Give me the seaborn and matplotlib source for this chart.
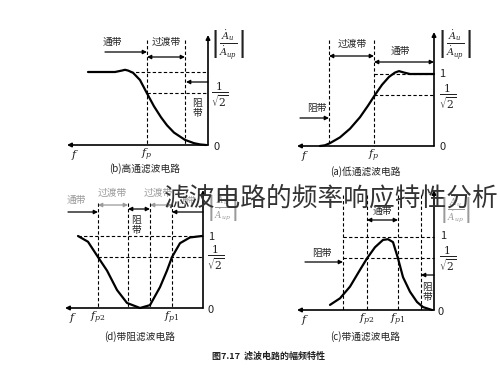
import numpy as np
import pandas as pd
import matplotlib
matplotlib.use("Agg")
import matplotlib.pyplot as plt
import seaborn as sns

sns.set_theme(style="white")
plt.rcParams['font.family'] = ['Noto Sans CJK SC', 'DejaVu Sans']
plt.rcParams['mathtext.fontset'] = 'dejavuserif'

# frequency measured from the origin (the scan is mirrored: f grows to the left)
hp_f = [12.0, 10.5, 9.3, 8.6, 8.3, 8.0, 7.5, 6.8, 6.1, 5.4, 4.7, 4.1, 3.4, 2.3, 1.4, 0.8, 0.2]
hp_gain = [1.0, 1.0, 1.0, 1.02, 1.03, 1.02, 0.99, 0.89, 0.707, 0.53, 0.38, 0.27, 0.17, 0.07, 0.025, 0.008, 0.0]

lp_f = [11.4, 10.9, 10.4, 9.4, 8.4, 7.4, 6.6, 5.9, 5.2, 4.5, 3.9, 3.5, 3.0, 2.4, 0.0]
lp_gain = [0.0, 0.01, 0.04, 0.12, 0.24, 0.40, 0.56, 0.71, 0.85, 0.96, 1.02, 1.04, 1.02, 1.0, 1.0]

bs_f = [12.5, 11.5, 10.5, 9.6, 8.6, 7.6, 6.3, 5.3, 4.3, 3.6, 3.1, 2.3, 1.3, 0.1]
bs_gain = [1.0, 0.92, 0.707, 0.52, 0.25, 0.07, 0.0, 0.04, 0.29, 0.52, 0.707, 0.90, 0.98, 1.0]

bp_f = [10.4, 9.4, 8.4, 7.4, 6.7, 5.9, 5.1, 4.6, 4.1, 3.6, 3.1, 2.4, 1.7, 1.1, 0.2]
bp_gain = [0.07, 0.16, 0.32, 0.55, 0.707, 0.86, 0.96, 0.97, 0.93, 0.707, 0.45, 0.25, 0.11, 0.04, 0.0]

title = "滤波电路的频率响应特性分析"
figure_caption = "图7.17  滤波电路的幅频特性"
ylabel = r'$\left|\frac{\dot{A}_u}{\dot{A}_{up}}\right|$'
inv_sqrt2 = r'$\frac{1}{\sqrt{2}}$'

W, H = 500, 369
fig = plt.figure(figsize=(5, 3.69), dpi=100)
fig.patch.set_facecolor('white')

DASH = dict(color='black', lw=0.8, ls=(0, (3, 2)))
FADED = '#9a9a9a'


def make_panel(ox, oy, s):
    """Axes whose data coords are f=(ox-px)/10 and gain=(oy-py)/s."""
    L, R, T, B = ox - 150, ox + 50, oy - 135, oy + 35
    ax = fig.add_axes([L / W, 1 - B / H, (R - L) / W, (B - T) / H])
    ax.set_xlim((ox - L) / 10, (ox - R) / 10)
    ax.set_ylim((oy - B) / s, (oy - T) / s)
    ax.axis('off')
    ax.patch.set_alpha(0)
    ax.ox, ax.oy, ax.s = ox, oy, s
    return ax


def P(ax, px, py):
    return (ax.ox - px) / 10, (ax.oy - py) / ax.s


def txt(ax, px, py, s, size=7, color='#222', **kw):
    x, y = P(ax, px, py)
    kw.setdefault('ha', 'center')
    kw.setdefault('va', 'center')
    ax.text(x, y, s, fontsize=size, color=color, clip_on=False, **kw)


def arrow(ax, p0, p1, both=False, lw=0.9, color='black'):
    ax.annotate('', xy=P(ax, *p1), xytext=P(ax, *p0),
                arrowprops=dict(arrowstyle='<|-|>' if both else '-|>',
                                color=color, lw=lw, mutation_scale=6,
                                shrinkA=0, shrinkB=0), annotation_clip=False)


def axes_frame(ax, left_end, top_end):
    arrow(ax, (ax.ox, ax.oy), (ax.ox, top_end), lw=1.2)
    arrow(ax, (ax.ox, ax.oy), (left_end, ax.oy), lw=1.2)


def vdash(ax, px, top):
    ax.plot(*zip(P(ax, px, top), P(ax, px, ax.oy)), **DASH)


def hdash(ax, gain, x0):
    ax.plot([P(ax, x0, 0)[0], 0], [gain, gain], **DASH)


def curve(ax, f, g):
    sns.lineplot(x=f, y=g, ax=ax, color='black', lw=1.6, sort=False,
                 estimator=None, legend=False)


# (b) high-pass, top left
ax = make_panel(208, 145, 73)
axes_frame(ax, 67, 35)
curve(ax, hp_f, hp_gain)
vdash(ax, 147, 40)
vdash(ax, 185, 40)
hdash(ax, 1.0, 130)
hdash(ax, 0.707, 147)
txt(ax, 112, 42, "通带")
arrow(ax, (105, 52), (147, 52))
txt(ax, 166, 42, "过渡带")
arrow(ax, (147, 57), (185, 57), both=True)
txt(ax, 197, 108, "阻\n带", linespacing=1.1)
arrow(ax, (208, 82), (186, 82))
txt(ax, 227, 45, ylabel, size=10)
txt(ax, 220, 95, inv_sqrt2, size=11)
txt(ax, 213, 147, "0", ha='left', size=8)
txt(ax, 147, 155, r'$f_p$', size=8)
txt(ax, 75, 155, r'$f$', size=8)

# (a) low-pass, top right
ax = make_panel(434, 146, 72)
axes_frame(ax, 297, 32)
curve(ax, lp_f, lp_gain)
vdash(ax, 329, 40)
vdash(ax, 374, 40)
hdash(ax, 1.0, 374)
hdash(ax, 0.707, 374)
txt(ax, 352, 44, "过渡带")
arrow(ax, (329, 56), (374, 56), both=True)
txt(ax, 400, 51, "通带")
arrow(ax, (374, 62), (434, 62), both=True)
txt(ax, 317, 108, "阻带")
arrow(ax, (300, 118), (329, 118))
txt(ax, 454, 45, ylabel, size=10)
txt(ax, 439, 74, "1", ha='left', size=8)
txt(ax, 448, 97, inv_sqrt2, size=11)
txt(ax, 439, 147, "0", ha='left', size=8)
txt(ax, 374, 156, r'$f_p$', size=8)
txt(ax, 305, 156, r'$f$', size=8)

# (d) band-stop, bottom left
ax = make_panel(203, 308, 72)
axes_frame(ax, 65, 190)
curve(ax, bs_f, bs_gain)
for px in [98, 128, 150, 172]:
    vdash(ax, px, 203)
hdash(ax, 1.0, 78)
hdash(ax, 0.707, 98)
txt(ax, 76, 200, "通带", color=FADED)
arrow(ax, (68, 212), (98, 212))
txt(ax, 112, 193, "过渡带", color=FADED)
arrow(ax, (98, 205), (128, 205), both=True, color=FADED)
txt(ax, 136, 225, "阻\n带", linespacing=1.1)
arrow(ax, (128, 209), (150, 209), both=True)
txt(ax, 158, 193, "过渡带", color=FADED)
arrow(ax, (150, 205), (172, 205), both=True, color=FADED)
txt(ax, 188, 200, "通带", color=FADED, size=6)
arrow(ax, (203, 212), (172, 212))
txt(ax, 222, 208, ylabel, size=9, color=FADED)
txt(ax, 208, 237, "1", ha='left', size=8)
txt(ax, 216, 258, inv_sqrt2, size=11)
txt(ax, 208, 310, "0", ha='left', size=8)
txt(ax, 98, 318, r'$f_{p2}$', size=8)
txt(ax, 172, 318, r'$f_{p1}$', size=8)
txt(ax, 73, 318, r'$f$', size=8)

# (c) band-pass, bottom right
ax = make_panel(434, 310, 73)
axes_frame(ax, 297, 190)
curve(ax, bp_f, bp_gain)
for px in [343, 367, 398, 421]:
    vdash(ax, px, 195)
hdash(ax, 1.0, 343)
hdash(ax, 0.707, 343)
txt(ax, 382, 211, "通带")
arrow(ax, (367, 220), (398, 220), both=True)
txt(ax, 322, 253, "阻带")
arrow(ax, (305, 262), (343, 262))
txt(ax, 427, 292, "阻\n带", linespacing=1.1)
arrow(ax, (434, 275), (421, 275))
txt(ax, 455, 210, ylabel, size=9, color=FADED)
txt(ax, 440, 236, "1", ha='left', size=8)
txt(ax, 448, 259, inv_sqrt2, size=11)
txt(ax, 438, 312, "0", ha='left', size=8)
txt(ax, 367, 320, r'$f_{p2}$', size=8)
txt(ax, 398, 320, r'$f_{p1}$', size=8)
txt(ax, 305, 320, r'$f$', size=8)

# captions
fig.text(145 / W, 1 - 169 / H, "(b)高通滤波电路", fontsize=7, ha='center', va='center', color='#222')
fig.text(365 / W, 1 - 172 / H, "(a)低通滤波电路", fontsize=7, ha='center', va='center', color='#222')
fig.text(140 / W, 1 - 337 / H, "(d)带阻滤波电路", fontsize=7, ha='center', va='center', color='#222')
fig.text(365 / W, 1 - 337 / H, "(c)带通滤波电路", fontsize=7, ha='center', va='center', color='#222')
fig.text(268 / W, 1 - 356 / H, figure_caption, fontsize=6.5, ha='center', va='center',
         color='#222', fontweight='bold')

# overlaid title
fig.text(164 / W, 1 - 198 / H, title, fontsize=18.5, ha='left', va='center',
         color='#333', fontweight='light', zorder=10)

fig.savefig("out.png", dpi=100, facecolor='white')
